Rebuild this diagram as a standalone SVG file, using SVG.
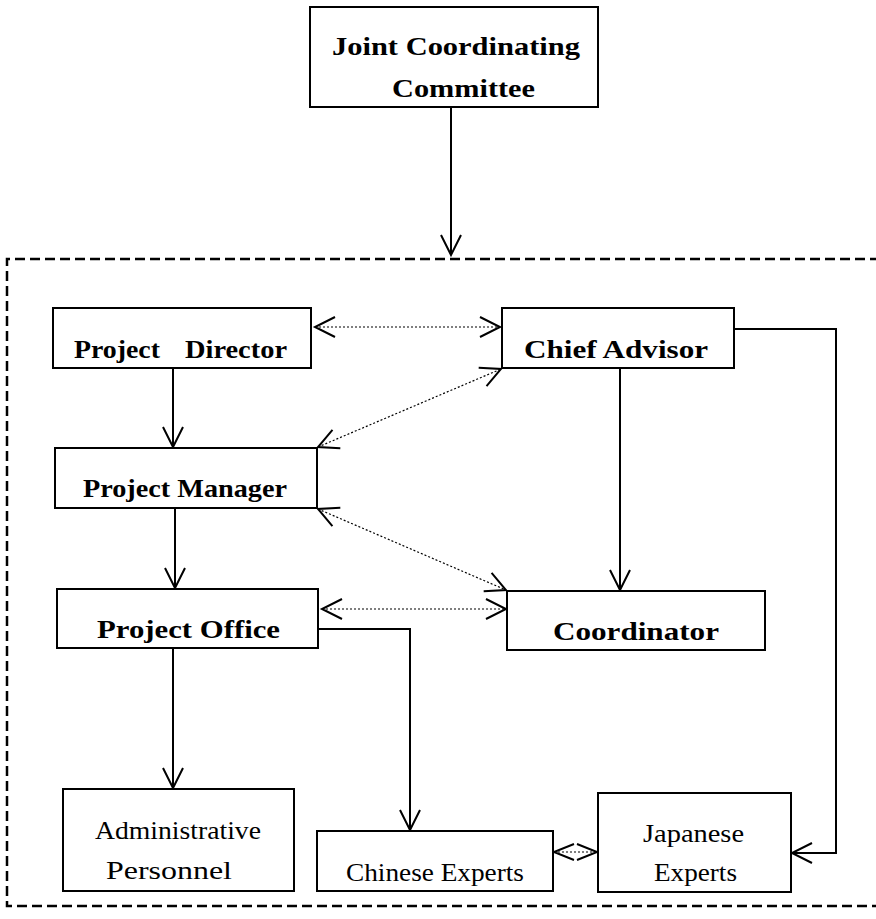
<svg xmlns="http://www.w3.org/2000/svg" width="876" height="919" viewBox="0 0 876 919">
<style>
.box{fill:#fff;stroke:#000;stroke-width:2}
.tb{font-family:"Liberation Serif","Times New Roman",serif;font-weight:bold;font-size:26px;fill:#000}
.tr{font-family:"Liberation Serif","Times New Roman",serif;font-size:25px;fill:#000}
.solid{fill:none;stroke:#000;stroke-width:2}
.dot{fill:none;stroke:#000;stroke-width:1.2;stroke-dasharray:2 2}
</style>
<defs>
<marker id="ah" markerUnits="userSpaceOnUse" markerWidth="24" markerHeight="24" viewBox="-22 -12 24 24" refX="0" refY="0" orient="auto-start-reverse" overflow="visible">
<path d="M-20,-10 L0,0 L-20,10" fill="none" stroke="#000" stroke-width="2"/>
</marker>
<marker id="ahs" markerUnits="userSpaceOnUse" markerWidth="24" markerHeight="24" viewBox="-22 -12 24 24" refX="0" refY="0" orient="auto-start-reverse" overflow="visible">
<path d="M-20,-8 L0,0 L-20,8" fill="none" stroke="#000" stroke-width="2"/>
</marker>
</defs>
<rect width="876" height="919" fill="#fff"/>
<path id="boundary" d="M880,259 H7 V906 H880" fill="none" stroke="#000" stroke-width="2.5" stroke-dasharray="10 5"/>
<g id="connectors">
<path class="solid" d="M451,107 V255" marker-end="url(#ah)"/>
<path class="solid" d="M173,368 V447" marker-end="url(#ah)"/>
<path class="solid" d="M175,508 V588" marker-end="url(#ah)"/>
<path class="solid" d="M173,648 V788" marker-end="url(#ah)"/>
<path class="solid" d="M318,629 H410 V830" marker-end="url(#ah)"/>
<path class="solid" d="M620,368 V590" marker-end="url(#ah)"/>
<path class="solid" d="M734,329 H836 V853 H792" marker-end="url(#ah)"/>
<path class="dot" d="M315,327 H500" marker-start="url(#ah)" marker-end="url(#ah)"/>
<path class="dot" d="M318,447 L501,369" marker-start="url(#ah)" marker-end="url(#ah)"/>
<path class="dot" d="M318,509 L506,590" marker-start="url(#ah)" marker-end="url(#ah)"/>
<path class="dot" d="M322,609 H506" marker-start="url(#ah)" marker-end="url(#ah)"/>
<path class="dot" d="M554,852 H597" marker-start="url(#ahs)" marker-end="url(#ahs)"/>
</g>
<g id="jcc">
<rect class="box" x="310" y="7" width="288" height="100"/>
<text class="tb" x="332" y="55" textLength="248" lengthAdjust="spacingAndGlyphs">Joint Coordinating</text>
<text class="tb" x="392" y="97" textLength="143" lengthAdjust="spacingAndGlyphs">Committee</text>
</g>
<g id="project-director">
<rect class="box" x="53" y="308" width="258" height="60"/>
<text class="tb" x="74" y="358" textLength="86" lengthAdjust="spacingAndGlyphs">Project</text>
<text class="tb" x="185" y="358" textLength="102" lengthAdjust="spacingAndGlyphs">Director</text>
</g>
<g id="chief-advisor">
<rect class="box" x="502" y="308" width="232" height="60"/>
<text class="tb" x="524" y="358" textLength="184" lengthAdjust="spacingAndGlyphs">Chief Advisor</text>
</g>
<g id="project-manager">
<rect class="box" x="55" y="448" width="262" height="60"/>
<text class="tb" x="83" y="497" textLength="204" lengthAdjust="spacingAndGlyphs">Project Manager</text>
</g>
<g id="project-office">
<rect class="box" x="57" y="589" width="261" height="59"/>
<text class="tb" x="97" y="638" textLength="183" lengthAdjust="spacingAndGlyphs">Project Office</text>
</g>
<g id="coordinator">
<rect class="box" x="507" y="591" width="258" height="59"/>
<text class="tb" x="553" y="640" textLength="166" lengthAdjust="spacingAndGlyphs">Coordinator</text>
</g>
<g id="administrative-personnel">
<rect class="box" x="63" y="789" width="231" height="102"/>
<text class="tr" x="95" y="839" textLength="166" lengthAdjust="spacingAndGlyphs">Administrative</text>
<text class="tr" x="106" y="879" textLength="126" lengthAdjust="spacingAndGlyphs">Personnel</text>
</g>
<g id="chinese-experts">
<rect class="box" x="317" y="831" width="236" height="60"/>
<text class="tr" x="346" y="881" textLength="178" lengthAdjust="spacingAndGlyphs">Chinese Experts</text>
</g>
<g id="japanese-experts">
<rect class="box" x="598" y="793" width="193" height="99"/>
<text class="tr" x="643" y="842" textLength="101" lengthAdjust="spacingAndGlyphs">Japanese</text>
<text class="tr" x="654" y="881" textLength="83" lengthAdjust="spacingAndGlyphs">Experts</text>
</g>
</svg>
